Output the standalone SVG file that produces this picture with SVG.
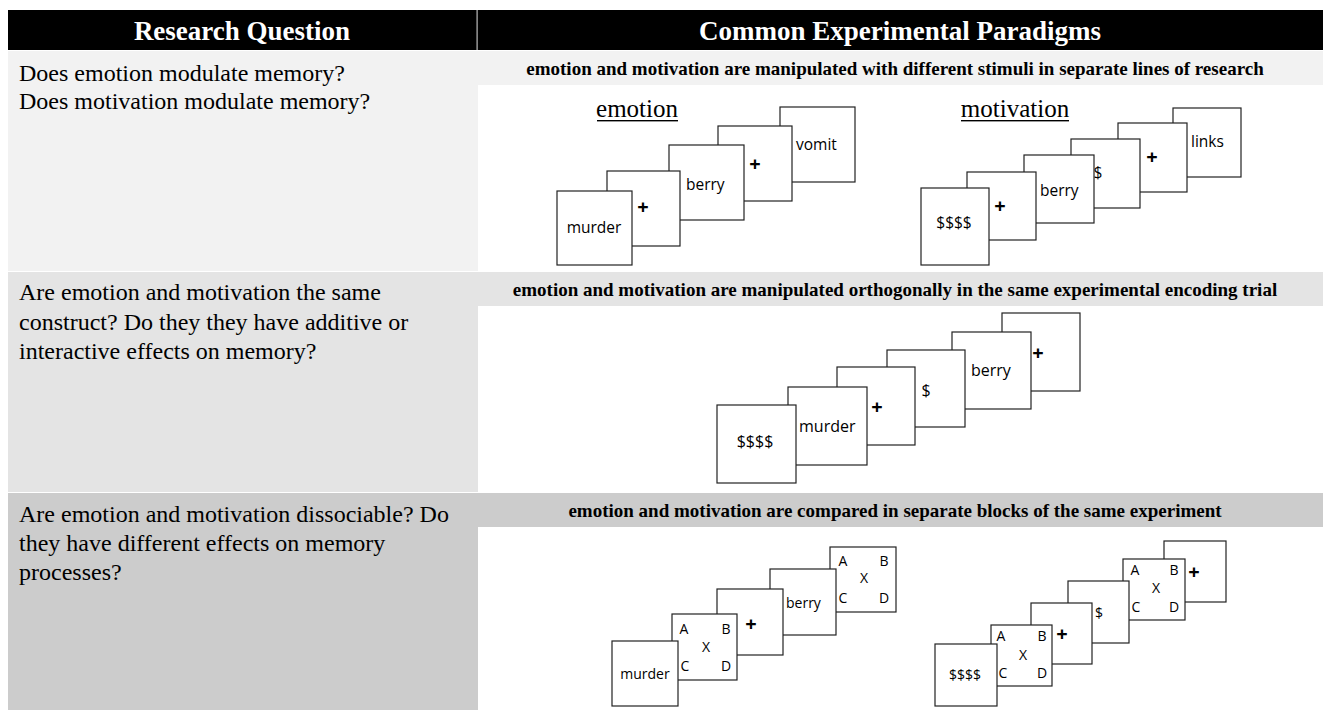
<svg xmlns="http://www.w3.org/2000/svg" width="1325" height="710" viewBox="0 0 1325 710">
<style>
.hd{font-family:"Liberation Serif","Times New Roman",serif;font-weight:bold;font-size:27px;fill:#fff;text-anchor:middle}
.q{font-family:"Liberation Serif","Times New Roman",serif;font-size:24px;fill:#000}
.sh{font-family:"Liberation Serif","Times New Roman",serif;font-weight:bold;font-size:19px;fill:#000;text-anchor:middle}
.ul{font-family:"Liberation Serif","Times New Roman",serif;font-size:25px;fill:#000;text-anchor:middle}
.box{fill:#fff;stroke:#222;stroke-width:1.2}
.s1{font-family:"Open Sans","Noto Sans",sans-serif;font-size:15.5px;fill:#000}
.s2{font-family:"Open Sans","Noto Sans",sans-serif;font-size:16px;fill:#000}
.s3{font-family:"Open Sans","Noto Sans",sans-serif;font-size:14px;fill:#000}
.m{text-anchor:middle}
.pl{font-family:"Open Sans","Noto Sans",sans-serif;font-weight:bold;font-size:20px;fill:#000;text-anchor:middle}
</style>
<rect width="1325" height="710" fill="#fff"/>
<g id="header">
<rect x="8" y="10" width="1315" height="40" fill="#000"/>
<rect x="476.5" y="10" width="1.2" height="40" fill="#bbb"/>
<text class="hd" x="242" y="40">Research Question</text>
<text class="hd" x="900" y="40">Common Experimental Paradigms</text>
</g>
<g id="row1">
<rect x="8" y="51" width="470" height="220" fill="#f2f2f2"/>
<rect x="478" y="51" width="845" height="34" fill="#f2f2f2"/>
<text class="q" x="19" y="81">Does emotion modulate memory?</text>
<text class="q" x="19" y="109">Does motivation modulate memory?</text>
<text class="sh" x="895" y="75">emotion and motivation are manipulated with different stimuli in separate lines of research</text>
</g>
<g id="row2">
<rect x="8" y="272" width="470" height="220" fill="#e4e4e4"/>
<rect x="478" y="272" width="845" height="34" fill="#e4e4e4"/>
<text class="q" x="19" y="300">Are emotion and motivation the same</text>
<text class="q" x="19" y="330">construct? Do they they have additive or</text>
<text class="q" x="19" y="359">interactive effects on memory?</text>
<text class="sh" x="895" y="296">emotion and motivation are manipulated orthogonally in the same experimental encoding trial</text>
</g>
<g id="row3">
<rect x="8" y="493" width="470" height="217" fill="#cccccc"/>
<rect x="478" y="493" width="845" height="34" fill="#cccccc"/>
<text class="q" x="19" y="522">Are emotion and motivation dissociable? Do</text>
<text class="q" x="19" y="551">they have different effects on memory</text>
<text class="q" x="19" y="580">processes?</text>
<text class="sh" x="895" y="517">emotion and motivation are compared in separate blocks of the same experiment</text>
</g>
<g id="emotion-sequence">
<text class="ul" x="637" y="117">emotion</text>
<rect x="597" y="120" width="81" height="1.4" fill="#000"/>
<rect class="box" x="780" y="107" width="75" height="75"/>
<text class="s1" x="796" y="150">vomit</text>
<rect class="box" x="718" y="126" width="74" height="75"/>
<text class="pl" x="755" y="171">+</text>
<rect class="box" x="669" y="145" width="75" height="75"/>
<text class="s1" x="686" y="190">berry</text>
<rect class="box" x="607" y="171" width="73" height="75"/>
<text class="pl" x="643" y="214">+</text>
<rect class="box" x="557" y="191" width="75" height="74"/>
<text class="s1 m" x="594" y="233">murder</text>
</g>
<g id="motivation-sequence">
<text class="ul" x="1015" y="117">motivation</text>
<rect x="961" y="120" width="108" height="1.4" fill="#000"/>
<rect class="box" x="1173" y="108" width="68" height="69"/>
<text class="s1" x="1191" y="147">links</text>
<rect class="box" x="1118" y="123" width="69" height="69"/>
<text class="pl" x="1152" y="164">+</text>
<rect class="box" x="1071" y="139" width="69" height="69"/>
<text class="s1 m" x="1098" y="178">$</text>
<rect class="box" x="1024" y="155" width="70" height="68"/>
<text class="s1" x="1040" y="196">berry</text>
<rect class="box" x="967" y="172" width="69" height="68"/>
<text class="pl" x="1000" y="213">+</text>
<rect class="box" x="921" y="188" width="68" height="77"/>
<text class="s1 m" x="954" y="228">$$$$</text>
</g>
<g id="orthogonal-sequence">
<rect class="box" x="1002" y="313" width="78" height="78"/>
<text class="pl" x="1038" y="360">+</text>
<rect class="box" x="952" y="332" width="79" height="77"/>
<text class="s2" x="971" y="376">berry</text>
<rect class="box" x="887" y="350" width="78" height="77"/>
<text class="s2 m" x="926" y="396">$</text>
<rect class="box" x="837" y="367" width="78" height="78"/>
<text class="pl" x="877" y="414">+</text>
<rect class="box" x="788" y="387" width="79" height="78"/>
<text class="s2" x="799" y="432">murder</text>
<rect class="box" x="717" y="405" width="79" height="78"/>
<text class="s2 m" x="755" y="447">$$$$</text>
</g>
<g id="emotion-block">
<rect class="box" x="830" y="547" width="66" height="65"/>
<text class="s3 m" x="843" y="566">A</text>
<text class="s3 m" x="884" y="566">B</text>
<text class="s3 m" x="864" y="583">X</text>
<text class="s3 m" x="843" y="603">C</text>
<text class="s3 m" x="884" y="603">D</text>
<rect class="box" x="770" y="569" width="66" height="66"/>
<text class="s3" x="786" y="608">berry</text>
<rect class="box" x="717" y="589" width="66" height="66"/>
<text class="pl" x="751" y="631">+</text>
<rect class="box" x="672" y="614" width="65" height="66"/>
<text class="s3 m" x="684" y="634">A</text>
<text class="s3 m" x="726" y="634">B</text>
<text class="s3 m" x="706" y="652">X</text>
<text class="s3 m" x="685" y="671">C</text>
<text class="s3 m" x="726" y="671">D</text>
<rect class="box" x="612" y="641" width="66" height="65"/>
<text class="s3 m" x="645" y="679">murder</text>
</g>
<g id="motivation-block">
<rect class="box" x="1164" y="541" width="62" height="61"/>
<text class="pl" x="1194" y="579">+</text>
<rect class="box" x="1123" y="559" width="62" height="61"/>
<text class="s3 m" x="1135" y="575">A</text>
<text class="s3 m" x="1174" y="575">B</text>
<text class="s3 m" x="1156" y="593">X</text>
<text class="s3 m" x="1136" y="612">C</text>
<text class="s3 m" x="1174" y="612">D</text>
<rect class="box" x="1068" y="581" width="61" height="62"/>
<text class="s3 m" x="1099" y="618">$</text>
<rect class="box" x="1031" y="603" width="61" height="61"/>
<text class="pl" x="1062" y="641">+</text>
<rect class="box" x="991" y="625" width="61" height="61"/>
<text class="s3 m" x="1001" y="641">A</text>
<text class="s3 m" x="1042" y="641">B</text>
<text class="s3 m" x="1023" y="660">X</text>
<text class="s3 m" x="1003" y="678">C</text>
<text class="s3 m" x="1042" y="678">D</text>
<rect class="box" x="935" y="644" width="62" height="62"/>
<text class="s3 m" x="965" y="680">$$$$</text>
</g>
<g id="connectors"></g>
</svg>
